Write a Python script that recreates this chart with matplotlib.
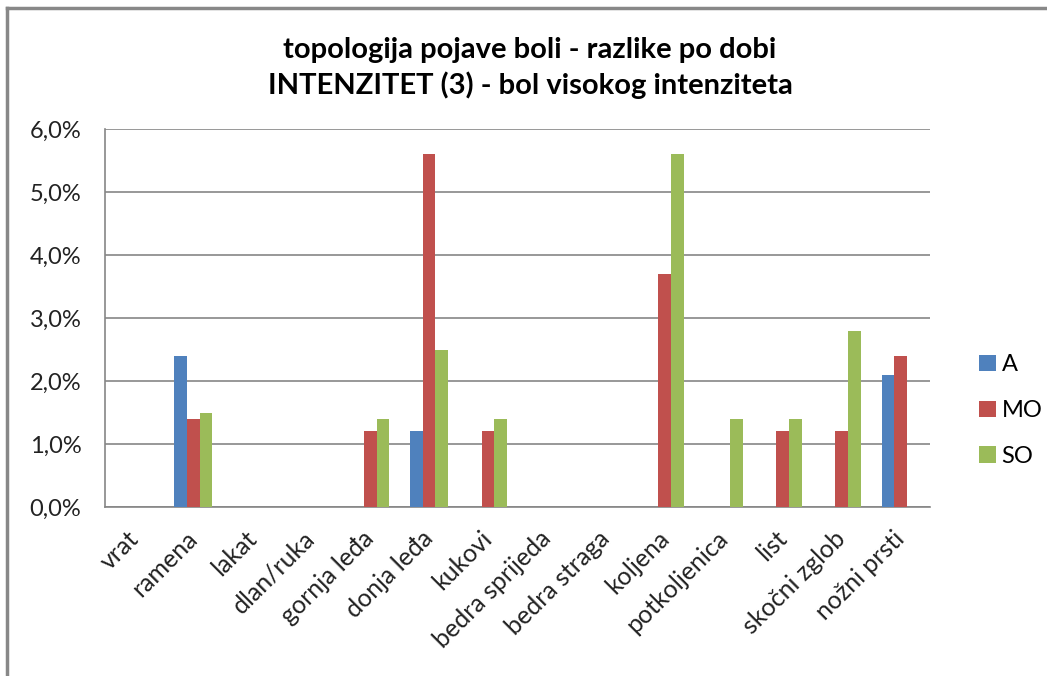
import numpy as np
import matplotlib.pyplot as plt
import matplotlib.transforms as mtransforms
from matplotlib.lines import Line2D
from matplotlib.ticker import FuncFormatter

categories = ["vrat", "ramena", "lakat", "dlan/ruka", "gornja leđa", "donja leđa",
              "kukovi", "bedra sprijeda", "bedra straga", "koljena", "potkoljenica",
              "list", "skočni zglob", "nožni prsti"]
series_names = ["A", "MO", "SO"]
vals_A = [0, 2.4, 0, 0, 0, 1.2, 0, 0, 0, 0, 0, 0, 0, 2.1]
vals_MO = [0, 1.4, 0, 0, 1.2, 5.6, 1.2, 0, 0, 3.7, 0, 1.2, 1.2, 2.4]
vals_SO = [0, 1.5, 0, 0, 1.4, 2.5, 1.4, 0, 0, 5.6, 1.4, 1.4, 2.8, 0]
colors = ["#4F81BD", "#C0504D", "#9BBB59"]
title = "topologija pojave boli - razlike po dobi\nINTENZITET (3) - bol visokog intenziteta"

plt.rcParams['font.family'] = ['Lato', 'DejaVu Sans']

W, H = 1047, 676
fig = plt.figure(figsize=(W / 100, H / 100), dpi=100)
ax = fig.add_axes([105 / W, 1 - 507 / H, (930 - 105) / W, (507 - 129) / H])

x = np.arange(len(categories))
bw = 0.215
for i, (name, vals) in enumerate(zip(series_names, [vals_A, vals_MO, vals_SO])):
    v = np.array(vals, dtype=float)
    ax.bar(x + (i - 1) * bw, v, width=bw, color=colors[i], label=name, zorder=3)

ax.set_xlim(-0.5, len(categories) - 0.5)
ax.set_ylim(0, 6)
ax.set_yticks(np.arange(0, 6.1, 1))
ax.yaxis.set_major_formatter(FuncFormatter(lambda v, p: f"{v:.1f}%".replace(".", ",")))
ax.grid(axis='y', color='#868686', linewidth=1.2, zorder=0)
ax.set_axisbelow(True)
for s in ['top', 'right']:
    ax.spines[s].set_visible(False)
ax.spines['left'].set_color('#868686')
ax.spines['bottom'].set_color('#868686')
ax.spines['left'].set_linewidth(1.2)
ax.spines['bottom'].set_linewidth(1.2)
ax.tick_params(axis='both', length=0, labelsize=17, colors='#222222')
ax.tick_params(axis='y', pad=17)
ax.set_xticks(x)
ax.set_xticklabels(categories, rotation=45, ha='right', rotation_mode='anchor')
ax.tick_params(axis='x', pad=17, labelsize=18)
# nudge the rotated labels a bit left, like the original
shift = mtransforms.ScaledTranslation(-8 / 100, 4 / 100, fig.dpi_scale_trans)
for lab in ax.get_xticklabels():
    lab.set_transform(lab.get_transform() + shift)

fig.text(530 / W, 1 - 68 / H, title, ha='center', va='center', fontsize=21,
         fontweight='bold', linespacing=1.38)

leg = fig.legend(loc='upper left', bbox_to_anchor=(958 / W, 1 - 333 / H), frameon=False,
                 fontsize=17, handlelength=0.7, handleheight=0.7, handletextpad=0.25,
                 labelspacing=1.05)

# chart area border
fig.add_artist(Line2D([7 / W, 7 / W], [0, 1 - 8 / H], color='#888888', linewidth=2.5))
fig.add_artist(Line2D([7 / W, 1], [1 - 8 / H, 1 - 8 / H], color='#888888', linewidth=2.5))

fig.savefig("out.png", dpi=100)
